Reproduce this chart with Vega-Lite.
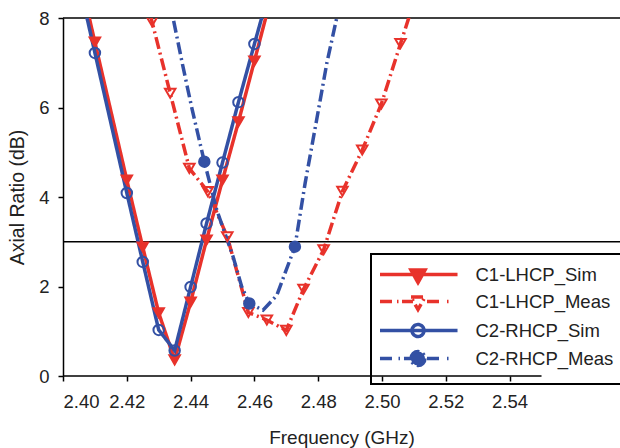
{
  "$schema": "https://vega.github.io/schema/vega-lite/v6.json",
  "width": 557,
  "height": 358,
  "autosize": {"type": "none"},
  "padding": {"left": 63, "top": 18, "right": 0, "bottom": 72},
  "background": "white",
  "config": {
    "view": {"stroke": null},
    "font": "Liberation Sans",
    "axis": {"labelFont": "Liberation Sans", "titleFont": "Liberation Sans", "titleFontWeight": "normal", "labelColor": "#222", "titleColor": "#222", "grid": false}
  },
  "datasets": {
    "refs": [{"ar": 8}, {"ar": 3}],
    "base": [{"f": 2.40, "f2": 2.55, "ar": 0}],
    "lines": [
      {"series": "C1-LHCP_Sim", "f": 2.405, "ar": 9.0},
      {"series": "C1-LHCP_Sim", "f": 2.41, "ar": 7.46},
      {"series": "C1-LHCP_Sim", "f": 2.42, "ar": 4.38},
      {"series": "C1-LHCP_Sim", "f": 2.425, "ar": 2.88},
      {"series": "C1-LHCP_Sim", "f": 2.43, "ar": 1.41},
      {"series": "C1-LHCP_Sim", "f": 2.435, "ar": 0.36},
      {"series": "C1-LHCP_Sim", "f": 2.44, "ar": 1.65},
      {"series": "C1-LHCP_Sim", "f": 2.445, "ar": 3.04},
      {"series": "C1-LHCP_Sim", "f": 2.45, "ar": 4.38},
      {"series": "C1-LHCP_Sim", "f": 2.455, "ar": 5.68},
      {"series": "C1-LHCP_Sim", "f": 2.46, "ar": 7.04},
      {"series": "C1-LHCP_Sim", "f": 2.465, "ar": 8.4},
      {"series": "C1-LHCP_Meas", "f": 2.424, "ar": 9.0},
      {"series": "C1-LHCP_Meas", "f": 2.4279, "ar": 7.92},
      {"series": "C1-LHCP_Meas", "f": 2.4336, "ar": 6.32},
      {"series": "C1-LHCP_Meas", "f": 2.4396, "ar": 4.64},
      {"series": "C1-LHCP_Meas", "f": 2.4454, "ar": 4.12},
      {"series": "C1-LHCP_Meas", "f": 2.4515, "ar": 3.11},
      {"series": "C1-LHCP_Meas", "f": 2.4581, "ar": 1.42},
      {"series": "C1-LHCP_Meas", "f": 2.4639, "ar": 1.25},
      {"series": "C1-LHCP_Meas", "f": 2.47, "ar": 1.02},
      {"series": "C1-LHCP_Meas", "f": 2.4754, "ar": 1.94},
      {"series": "C1-LHCP_Meas", "f": 2.4817, "ar": 2.82},
      {"series": "C1-LHCP_Meas", "f": 2.4876, "ar": 4.13},
      {"series": "C1-LHCP_Meas", "f": 2.4938, "ar": 5.05},
      {"series": "C1-LHCP_Meas", "f": 2.4998, "ar": 6.08},
      {"series": "C1-LHCP_Meas", "f": 2.5058, "ar": 7.43},
      {"series": "C1-LHCP_Meas", "f": 2.512, "ar": 8.8},
      {"series": "C2-RHCP_Sim", "f": 2.405, "ar": 8.8},
      {"series": "C2-RHCP_Sim", "f": 2.41, "ar": 7.22},
      {"series": "C2-RHCP_Sim", "f": 2.42, "ar": 4.09},
      {"series": "C2-RHCP_Sim", "f": 2.425, "ar": 2.55},
      {"series": "C2-RHCP_Sim", "f": 2.43, "ar": 1.03},
      {"series": "C2-RHCP_Sim", "f": 2.435, "ar": 0.57},
      {"series": "C2-RHCP_Sim", "f": 2.44, "ar": 1.99},
      {"series": "C2-RHCP_Sim", "f": 2.445, "ar": 3.41},
      {"series": "C2-RHCP_Sim", "f": 2.45, "ar": 4.77},
      {"series": "C2-RHCP_Sim", "f": 2.455, "ar": 6.12},
      {"series": "C2-RHCP_Sim", "f": 2.46, "ar": 7.42},
      {"series": "C2-RHCP_Sim", "f": 2.465, "ar": 8.7},
      {"series": "C2-RHCP_Meas", "f": 2.432, "ar": 8.9},
      {"series": "C2-RHCP_Meas", "f": 2.4345, "ar": 8.0},
      {"series": "C2-RHCP_Meas", "f": 2.4375, "ar": 6.95},
      {"series": "C2-RHCP_Meas", "f": 2.4405, "ar": 5.95},
      {"series": "C2-RHCP_Meas", "f": 2.4443, "ar": 4.79},
      {"series": "C2-RHCP_Meas", "f": 2.4482, "ar": 3.71},
      {"series": "C2-RHCP_Meas", "f": 2.4533, "ar": 2.67},
      {"series": "C2-RHCP_Meas", "f": 2.456, "ar": 2.0},
      {"series": "C2-RHCP_Meas", "f": 2.4584, "ar": 1.62},
      {"series": "C2-RHCP_Meas", "f": 2.4627, "ar": 1.47},
      {"series": "C2-RHCP_Meas", "f": 2.467, "ar": 1.8},
      {"series": "C2-RHCP_Meas", "f": 2.4727, "ar": 2.89},
      {"series": "C2-RHCP_Meas", "f": 2.4759, "ar": 4.31},
      {"series": "C2-RHCP_Meas", "f": 2.4795, "ar": 5.72},
      {"series": "C2-RHCP_Meas", "f": 2.4827, "ar": 6.99},
      {"series": "C2-RHCP_Meas", "f": 2.4858, "ar": 8.0},
      {"series": "C2-RHCP_Meas", "f": 2.488, "ar": 8.8}
    ],
    "markers": [
      {"series": "C1-LHCP_Sim", "f": 2.41, "ar": 7.46},
      {"series": "C1-LHCP_Sim", "f": 2.42, "ar": 4.38},
      {"series": "C1-LHCP_Sim", "f": 2.425, "ar": 2.88},
      {"series": "C1-LHCP_Sim", "f": 2.43, "ar": 1.41},
      {"series": "C1-LHCP_Sim", "f": 2.435, "ar": 0.36},
      {"series": "C1-LHCP_Sim", "f": 2.44, "ar": 1.65},
      {"series": "C1-LHCP_Sim", "f": 2.445, "ar": 3.04},
      {"series": "C1-LHCP_Sim", "f": 2.45, "ar": 4.38},
      {"series": "C1-LHCP_Sim", "f": 2.455, "ar": 5.68},
      {"series": "C1-LHCP_Sim", "f": 2.46, "ar": 7.04},
      {"series": "C1-LHCP_Meas", "f": 2.4279, "ar": 7.92},
      {"series": "C1-LHCP_Meas", "f": 2.4336, "ar": 6.32},
      {"series": "C1-LHCP_Meas", "f": 2.4396, "ar": 4.64},
      {"series": "C1-LHCP_Meas", "f": 2.4454, "ar": 4.12},
      {"series": "C1-LHCP_Meas", "f": 2.4515, "ar": 3.11},
      {"series": "C1-LHCP_Meas", "f": 2.4581, "ar": 1.42},
      {"series": "C1-LHCP_Meas", "f": 2.4639, "ar": 1.25},
      {"series": "C1-LHCP_Meas", "f": 2.47, "ar": 1.02},
      {"series": "C1-LHCP_Meas", "f": 2.4754, "ar": 1.94},
      {"series": "C1-LHCP_Meas", "f": 2.4817, "ar": 2.82},
      {"series": "C1-LHCP_Meas", "f": 2.4876, "ar": 4.13},
      {"series": "C1-LHCP_Meas", "f": 2.4938, "ar": 5.05},
      {"series": "C1-LHCP_Meas", "f": 2.4998, "ar": 6.08},
      {"series": "C1-LHCP_Meas", "f": 2.5058, "ar": 7.43},
      {"series": "C2-RHCP_Sim", "f": 2.41, "ar": 7.22},
      {"series": "C2-RHCP_Sim", "f": 2.42, "ar": 4.09},
      {"series": "C2-RHCP_Sim", "f": 2.425, "ar": 2.55},
      {"series": "C2-RHCP_Sim", "f": 2.43, "ar": 1.03},
      {"series": "C2-RHCP_Sim", "f": 2.435, "ar": 0.57},
      {"series": "C2-RHCP_Sim", "f": 2.44, "ar": 1.99},
      {"series": "C2-RHCP_Sim", "f": 2.445, "ar": 3.41},
      {"series": "C2-RHCP_Sim", "f": 2.45, "ar": 4.77},
      {"series": "C2-RHCP_Sim", "f": 2.455, "ar": 6.12},
      {"series": "C2-RHCP_Sim", "f": 2.46, "ar": 7.42},
      {"series": "C2-RHCP_Meas", "f": 2.4443, "ar": 4.79},
      {"series": "C2-RHCP_Meas", "f": 2.4584, "ar": 1.62},
      {"series": "C2-RHCP_Meas", "f": 2.4727, "ar": 2.89}
    ]
  },
  "layer": [
    {
      "data": {"name": "refs"},
      "mark": {"type": "rule", "color": "black", "strokeWidth": 1.5},
      "encoding": {
        "y": {"field": "ar", "type": "quantitative", "scale": {"domain": [0, 8], "nice": false, "zero": false}}
      }
    },
    {
      "data": {"name": "base"},
      "mark": {"type": "rule", "color": "black", "strokeWidth": 1.5},
      "encoding": {
        "x": {"field": "f", "type": "quantitative", "scale": {"domain": [2.40, 2.5746], "nice": false, "zero": false}},
        "x2": {"field": "f2"},
        "y": {"field": "ar", "type": "quantitative", "scale": {"domain": [0, 8], "nice": false, "zero": false}}
      }
    },
    {
      "data": {"name": "lines"},
      "mark": {"type": "line", "strokeWidth": 3.5, "clip": true},
      "encoding": {
        "x": {
          "field": "f", "type": "quantitative",
          "scale": {"domain": [2.40, 2.5746], "nice": false, "zero": false},
          "axis": {"values": [2.40, 2.42, 2.44, 2.46, 2.48, 2.50, 2.52, 2.54], "format": ".2f", "domain": false, "title": "Frequency (GHz)", "titleFontSize": 19, "labelFontSize": 18.5, "tickSize": 5, "tickColor": "black", "tickWidth": 1.5, "labelPadding": 11, "titlePadding": 18}
        },
        "y": {
          "field": "ar", "type": "quantitative",
          "scale": {"domain": [0, 8], "nice": false, "zero": false},
          "axis": {"values": [0, 2, 4, 6, 8], "title": "Axial Ratio (dB)", "titleFontSize": 19.5, "labelFontSize": 18.5, "domainColor": "black", "domainWidth": 1.5, "tickColor": "black", "tickSize": 5, "tickWidth": 1.5, "labelPadding": 9, "titlePadding": 11}
        },
        "color": {
          "field": "series", "type": "nominal",
          "scale": {"domain": ["C1-LHCP_Sim", "C1-LHCP_Meas", "C2-RHCP_Sim", "C2-RHCP_Meas"], "range": ["#E8322B", "#E8322B", "#3350A4", "#3350A4"]},
          "legend": {
            "orient": "none", "legendX": 308, "legendY": 236,
            "title": null,
            "labelFont": "Liberation Sans", "labelFontSize": 18.5, "labelColor": "#222",
            "strokeColor": "black",
            "padding": 11,
            "rowPadding": 0,
            "symbolSize": 225,
            "symbolStrokeWidth": 3,
            "symbolOffset": 26.5,
            "labelOffset": 48,
            "encode": {
              "symbols": {"update": {
                "shape": {"signal": "datum.value === 'C1-LHCP_Sim' ? 'M-5.07,0H5.27M-0.93,-0.6L0.93,-0.6L0,1.07Z' : datum.value === 'C1-LHCP_Meas' ? 'M-5.07,0H-3.47M-2.8,0H-2.6M-2.13,0H-0.67M1.2,0H2.8M3.87,0H4.07M-0.93,-0.6L0.93,-0.6L0,1.07Z' : datum.value === 'C2-RHCP_Sim' ? 'M-5.07,0H5.27M0.8,0A0.8,0.8,0,1,1,-0.8,0A0.8,0.8,0,1,1,0.8,0' : 'M-5.07,0H-3.2M-2.6,0H-2.4M-1.87,0H-0.8M1.2,0H2.8M3.87,0H4.07M0.93,0A0.93,0.93,0,1,1,-0.93,0A0.93,0.93,0,1,1,0.93,0Z'"},
                "fill": {"signal": "datum.value === 'C1-LHCP_Sim' ? '#E8322B' : datum.value === 'C2-RHCP_Meas' ? '#3350A4' : 'transparent'"},
                "stroke": {"signal": "indexof(datum.value, 'C1') === 0 ? '#E8322B' : '#3350A4'"},
                "strokeWidth": {"value": 3.5},
                "strokeDash": {"value": [1, 0]},
                "size": {"value": 225},
                "opacity": {"value": 1}
              }},
              "legend": {"update": {"strokeWidth": {"value": 2}}}
            }
          }
        },
        "strokeDash": {
          "field": "series", "type": "nominal",
          "scale": {"domain": ["C1-LHCP_Sim", "C1-LHCP_Meas", "C2-RHCP_Sim", "C2-RHCP_Meas"], "range": [[1, 0], [12, 4, 2, 4], [1, 0], [12, 4, 2, 4]]},
          "legend": null
        }
      }
    },
    {
      "data": {"name": "markers"},
      "mark": {"type": "point", "size": 110, "strokeWidth": 2, "opacity": 1, "clip": true},
      "encoding": {
        "x": {"field": "f", "type": "quantitative", "scale": {"domain": [2.40, 2.5746], "nice": false, "zero": false}},
        "y": {"field": "ar", "type": "quantitative", "scale": {"domain": [0, 8], "nice": false, "zero": false}},
        "shape": {
          "field": "series", "type": "nominal",
          "scale": {"range": ["triangle-down", "triangle-down", "circle", "circle"]},
          "legend": null
        },
        "stroke": {
          "field": "series", "type": "nominal",
          "scale": {"range": ["#E8322B", "#E8322B", "#3350A4", "#3350A4"]},
          "legend": null
        },
        "fill": {
          "field": "series", "type": "nominal",
          "scale": {"range": ["transparent", "#E8322B", "#3350A4", "transparent"]},
          "legend": null
        }
      }
    }
  ]
}
